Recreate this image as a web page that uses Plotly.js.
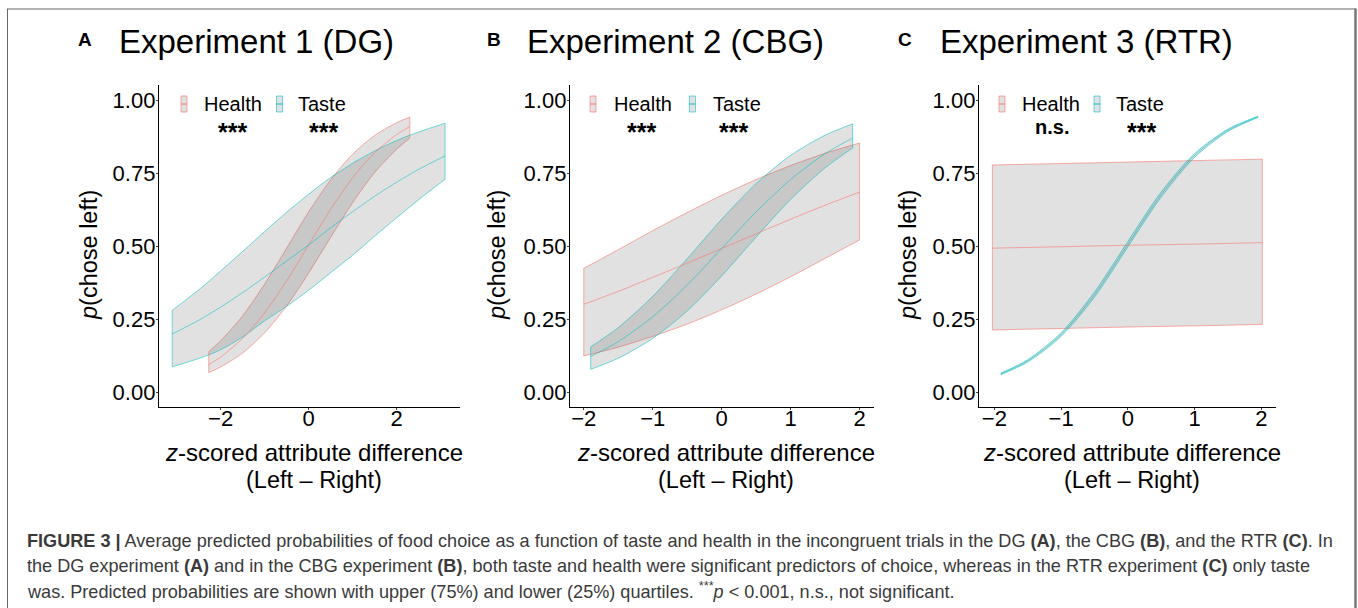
<!DOCTYPE html>
<html>
<head>
<meta charset="utf-8">
<script src="https://cdn.plot.ly/plotly-3.0.1.min.js"></script>
<style>html,body{margin:0;padding:0;background:#fff;}#chart{width:1358px;height:608px;}</style>
</head>
<body>
<div id="chart"></div>
<script>
// ---------------- data ----------------
// Panel A: Experiment 1 (DG)
const aTasteX   = [-3.1, -2.5, -2, -1.5, -1, -0.5, 0, 0.5, 1, 1.5, 2, 2.5, 3.1];
const aTasteMid = [0.200, 0.247, 0.292, 0.342, 0.395, 0.450, 0.505, 0.564, 0.619, 0.672, 0.720, 0.764, 0.810];
const aTasteHi  = [0.281, 0.351, 0.416, 0.483, 0.551, 0.617, 0.679, 0.736, 0.785, 0.827, 0.863, 0.892, 0.922];
const aTasteLo  = [0.088, 0.116, 0.146, 0.190, 0.245, 0.295, 0.350, 0.410, 0.470, 0.535, 0.598, 0.660, 0.730];
const aHealthX   = [-2.27, -2, -1.5, -1, -0.5, 0, 0.5, 1, 1.5, 2, 2.3];
const aHealthMid = [0.095, 0.121, 0.185, 0.273, 0.382, 0.505, 0.627, 0.735, 0.821, 0.883, 0.911];
const aHealthHi  = [0.140, 0.177, 0.262, 0.371, 0.494, 0.618, 0.728, 0.816, 0.880, 0.924, 0.943];
const aHealthLo  = [0.068, 0.087, 0.135, 0.204, 0.296, 0.409, 0.531, 0.650, 0.753, 0.833, 0.871];

// Panel B: Experiment 2 (CBG)
const bHealthX   = [-2, -1.5, -1, -0.5, 0, 0.5, 1, 1.5, 2];
const bHealthMid = [0.302, 0.346, 0.394, 0.443, 0.493, 0.543, 0.593, 0.641, 0.686];
const bHealthHi  = [0.425, 0.489, 0.554, 0.616, 0.675, 0.729, 0.777, 0.819, 0.854];
const bHealthLo  = [0.125, 0.155, 0.192, 0.234, 0.283, 0.337, 0.396, 0.459, 0.522];
const bTasteX   = [-1.9, -1.5, -1, -0.5, 0, 0.5, 1, 1.5, 1.9];
const bTasteMid = [0.123, 0.174, 0.259, 0.368, 0.493, 0.618, 0.729, 0.818, 0.871];
const bTasteHi  = [0.156, 0.222, 0.329, 0.458, 0.593, 0.715, 0.812, 0.881, 0.920];
const bTasteLo  = [0.079, 0.117, 0.185, 0.279, 0.399, 0.532, 0.661, 0.769, 0.837];

// Panel C: Experiment 3 (RTR)
const cHealthX   = [-2.03, -1, 0, 1, 2.015];
const cHealthMid = [0.494, 0.499, 0.504, 0.508, 0.513];
const cHealthHi  = [0.779, 0.784, 0.789, 0.794, 0.799];
const cHealthLo  = [0.214, 0.219, 0.224, 0.228, 0.233];
const cTasteX   = [-1.9, -1.5, -1, -0.5, 0, 0.5, 1, 1.5, 1.95];
const cTasteMid = [0.064, 0.108, 0.198, 0.335, 0.507, 0.678, 0.812, 0.898, 0.944];
const cTasteHi  = [0.066, 0.112, 0.204, 0.344, 0.517, 0.687, 0.818, 0.902, 0.946];
const cTasteLo  = [0.061, 0.104, 0.192, 0.326, 0.498, 0.669, 0.805, 0.894, 0.942];

// labels
const panelLetters = ['A', 'B', 'C'];
const panelTitles = ['Experiment 1 (DG)', 'Experiment 2 (CBG)', 'Experiment 3 (RTR)'];
const seriesNames = ['Health', 'Taste'];
const signif = [['***', '***'], ['***', '***'], ['n.s.', '***']];
const yTickVals = [0, 0.25, 0.5, 0.75, 1];
const yTickText = ['0.00', '0.25', '0.50', '0.75', '1.00'];
const xTickValsA = [-2, 0, 2];
const xTickValsBC = [-2, -1, 0, 1, 2];
const captionLines = [
  '<b>FIGURE 3 |</b> Average predicted probabilities of food choice as a function of taste and health in the incongruent trials in the DG <b>(A)</b>, the CBG <b>(B)</b>, and the RTR <b>(C)</b>. In',
  'the DG experiment <b>(A)</b> and in the CBG experiment <b>(B)</b>, both taste and health were significant predictors of choice, whereas in the RTR experiment <b>(C)</b> only taste',
  'was. Predicted probabilities are shown with upper (75%) and lower (25%) quartiles. <sup>***</sup><i>p</i> < 0.001, n.s., not significant.'
];

// ---------------- styling ----------------
const W = 1358, H = 608;
const PX = x => x / W;
const PY = y => 1 - y / H;
const RED = '#F8766D', CYAN = '#00BFC4';
const RED_EDGE = 'rgba(248,118,109,0.6)', CYAN_EDGE = 'rgba(0,191,196,0.55)';
const FILL = 'rgba(75,75,75,0.17)';
const FONT = 'Liberation Sans, Arial, Helvetica, sans-serif';

const panels = [
  {xa: 'x', ya: 'y', health: [aHealthX, aHealthLo, aHealthHi, aHealthMid], taste: [aTasteX, aTasteLo, aTasteHi, aTasteMid]},
  {xa: 'x2', ya: 'y2', health: [bHealthX, bHealthLo, bHealthHi, bHealthMid], taste: [bTasteX, bTasteLo, bTasteHi, bTasteMid]},
  {xa: 'x3', ya: 'y3', health: [cHealthX, cHealthLo, cHealthHi, cHealthMid], taste: [cTasteX, cTasteLo, cTasteHi, cTasteMid]}
];

const traces = [];
function band(p, d, edge, name) {
  const [X, Lo, Hi, Mid] = d;
  const base = {type: 'scatter', mode: 'lines', xaxis: p.xa, yaxis: p.ya, hoverinfo: 'skip', showlegend: false, name: name};
  traces.push(Object.assign({}, base, {x: X, y: Lo, line: {color: edge, width: 1, shape: 'spline', smoothing: 0.8}}));
  traces.push(Object.assign({}, base, {x: X, y: Hi, fill: 'tonexty', fillcolor: FILL, line: {color: edge, width: 1, shape: 'spline', smoothing: 0.8}}));
}
function lines(p, d, edge, name) {
  const [X, Lo, Hi, Mid] = d;
  const n = X.length - 1;
  const base = {type: 'scatter', mode: 'lines', xaxis: p.xa, yaxis: p.ya, hoverinfo: 'skip', showlegend: false, name: name};
  traces.push(Object.assign({}, base, {x: X, y: Mid, line: {color: edge, width: 1, shape: 'spline', smoothing: 0.8}}));
  traces.push(Object.assign({}, base, {x: [X[0], X[0]], y: [Lo[0], Hi[0]], line: {color: edge, width: 1}}));
  traces.push(Object.assign({}, base, {x: [X[n], X[n]], y: [Lo[n], Hi[n]], line: {color: edge, width: 1}}));
}
panels.forEach(p => {
  band(p, p.health, RED_EDGE, seriesNames[0]);
  band(p, p.taste, CYAN_EDGE, seriesNames[1]);
  lines(p, p.health, RED_EDGE, seriesNames[0]);
  lines(p, p.taste, CYAN_EDGE, seriesNames[1]);
});

// axis geometry in pixels
const geo = [
  {x0: 159, x1: 460, range: [-3.4, 3.44], ticks: xTickValsA, letterX: 85, titleX: 119, yTitleX: 89,
   keyH: 181, txtH: 203, keyT: 276.5, txtT: 297, sigH: 232, sigT: 323},
  {x0: 570, x1: 874, range: [-2.2, 2.21], ticks: xTickValsBC, letterX: 494, titleX: 527, yTitleX: 497,
   keyH: 590, txtH: 612.5, keyT: 689.5, txtT: 711.5, sigH: 641, sigT: 733},
  {x0: 979, x1: 1276, range: [-2.23, 2.22], ticks: xTickValsBC, letterX: 905, titleX: 940, yTitleX: 908,
   keyH: 999, txtH: 1021, keyT: 1094, txtT: 1115, sigH: 1052, sigT: 1141}
];
const yTop = 85, yBot = 407;

const layout = {
  width: W, height: H,
  margin: {l: 0, r: 0, t: 0, b: 0, pad: 0},
  paper_bgcolor: '#ffffff', plot_bgcolor: 'rgba(0,0,0,0)',
  showlegend: false,
  font: {family: FONT, color: '#000'},
  annotations: [], shapes: []
};
const axisNames = [['xaxis', 'yaxis'], ['xaxis2', 'yaxis2'], ['xaxis3', 'yaxis3']];
geo.forEach((g, i) => {
  const [xn, yn] = axisNames[i];
  const xanchor = i === 0 ? 'y' : 'y' + (i + 1);
  const yanchor = i === 0 ? 'x' : 'x' + (i + 1);
  layout[xn] = {
    domain: [PX(g.x0), PX(g.x1)], range: g.range, anchor: xanchor,
    showline: true, linecolor: '#000', linewidth: 1.2, mirror: false,
    showgrid: false, zeroline: false,
    ticks: 'outside', ticklen: 2, tickcolor: '#444', tickwidth: 1,
    ticklabelstandoff: -11,
    tickvals: g.ticks, tickfont: {family: FONT, size: 22, color: '#000'},
    fixedrange: true
  };
  layout[yn] = {
    domain: [PY(yBot), PY(yTop)], range: [-0.05, 1.053], anchor: yanchor,
    showline: true, linecolor: '#000', linewidth: 1.2, mirror: false,
    showgrid: false, zeroline: false,
    ticks: 'outside', ticklen: 2, tickcolor: '#444', tickwidth: 1,
    ticklabelstandoff: -4,
    tickvals: yTickVals, ticktext: yTickText, tickfont: {family: FONT, size: 22, color: '#000'},
    fixedrange: true
  };
  const A = layout.annotations;
  const base = {xref: 'paper', yref: 'paper', showarrow: false, font: {family: FONT, color: '#000'}};
  const ann = (o) => A.push(Object.assign({}, base, o, {font: Object.assign({}, base.font, o.font || {})}));
  // panel letter and title
  ann({text: '<b>' + panelLetters[i] + '</b>', x: PX(g.letterX), y: PY(40), xanchor: 'center', yanchor: 'middle', font: {size: 19}});
  ann({text: panelTitles[i], x: PX(g.titleX - 2), y: PY(41), xanchor: 'left', yanchor: 'middle', font: {size: 33}});
  // axis titles
  const cx = (g.x0 + g.x1) / 2 + 4;
  ann({text: '<i>z</i>-scored attribute difference', x: PX(cx), y: PY(452), xanchor: 'center', yanchor: 'middle', font: {size: 24}});
  ann({text: '(Left – Right)', x: PX(cx), y: PY(480), xanchor: 'center', yanchor: 'middle', font: {size: 23.5}});
  ann({text: '<i>p</i>(chose left)', x: PX(g.yTitleX), y: PY(255), xanchor: 'center', yanchor: 'middle', textangle: -90, font: {size: 23.5}});
  // legend
  const keyY0 = 96, keyY1 = 112, keyW = 6, midY = 104;
  [[g.keyH, g.txtH, RED_EDGE, g.sigH, 0], [g.keyT, g.txtT, CYAN_EDGE, g.sigT, 1]].forEach(([kx, tx, col, sx, j]) => {
    layout.shapes.push({type: 'rect', xref: 'paper', yref: 'paper', x0: PX(kx), x1: PX(kx + keyW), y0: PY(keyY1), y1: PY(keyY0),
      fillcolor: FILL, line: {color: col, width: 1}});
    layout.shapes.push({type: 'line', xref: 'paper', yref: 'paper', x0: PX(kx), x1: PX(kx + keyW), y0: PY(midY), y1: PY(midY),
      line: {color: j === 0 ? RED : CYAN, width: 1}});
    ann({text: seriesNames[j], x: PX(tx - 1), y: PY(104), xanchor: 'left', yanchor: 'middle', font: {size: 20}});
    const s = signif[i][j];
    if (s === 'n.s.') {
      ann({text: '<b>n.s.</b>', x: PX(sx), y: PY(127), xanchor: 'center', yanchor: 'middle', font: {size: 20}});
    } else {
      ann({text: '<b>' + s + '</b>', x: PX(sx), y: PY(132), xanchor: 'center', yanchor: 'middle', font: {size: 25}});
    }
  });
});

// caption
const capY = [541, 566, 590];
captionLines.forEach((t, k) => {
  layout.annotations.push({text: t, xref: 'paper', yref: 'paper', x: PX(25), y: PY(capY[k]), xanchor: 'left', yanchor: 'middle',
    showarrow: false, align: 'left', font: {family: FONT, size: 18.1, color: '#3a3a3a'}});
});

// frame
layout.shapes.push({type: 'line', xref: 'paper', yref: 'paper', x0: PX(7.5), x1: PX(7.5), y0: PY(9), y1: PY(612), line: {color: '#666', width: 1}});
layout.shapes.push({type: 'line', xref: 'paper', yref: 'paper', x0: PX(7), x1: PX(1356), y0: PY(9), y1: PY(9), line: {color: '#666', width: 1}});
layout.shapes.push({type: 'line', xref: 'paper', yref: 'paper', x0: PX(1355.5), x1: PX(1355.5), y0: PY(8.5), y1: PY(612), line: {color: '#777', width: 2.5}});

Plotly.newPlot('chart', traces, layout, {staticPlot: true, displayModeBar: false});
</script>
</body>
</html>
